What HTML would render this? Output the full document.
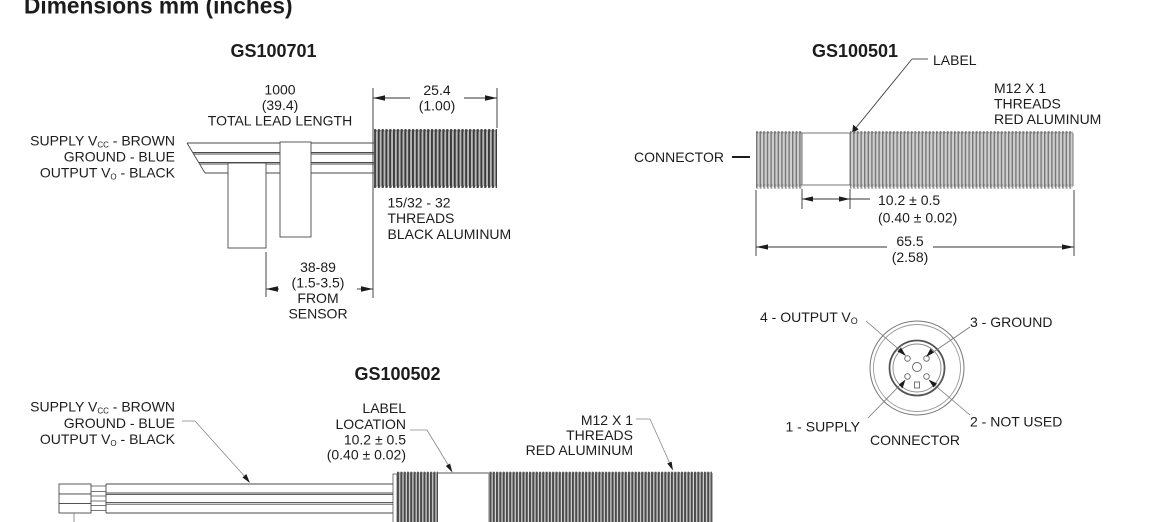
<!DOCTYPE html>
<html>
<head>
<meta charset="utf-8">
<style>
  html,body{margin:0;padding:0;background:#fff;}
  body{width:1150px;height:522px;overflow:hidden;}
  svg{display:block;}
  text{font-family:"Liberation Sans",Arial,sans-serif;fill:#1c1c1c;}
  .t{font-size:14px;}
  .b{font-weight:bold;}
</style>
</head>
<body>
<svg width="1150" height="522" viewBox="0 0 1150 522" xmlns="http://www.w3.org/2000/svg">
  <defs>
    <pattern id="tA" x="374" y="0" width="3.8" height="20" patternUnits="userSpaceOnUse">
      <rect width="3.8" height="20" fill="#b8b8b8"/>
      <rect x="0" width="1.9" height="20" fill="#3a3a3a"/>
    </pattern>
    <pattern id="bA" x="374" y="128.5" width="3.8" height="4" patternUnits="userSpaceOnUse">
      <circle cx="1" cy="2" r="1.5" fill="#444"/>
    </pattern>
    <pattern id="tB" x="756" y="0" width="3.6" height="20" patternUnits="userSpaceOnUse">
      <rect width="3.6" height="20" fill="#cfcfcf"/>
      <rect x="0" width="1.4" height="20" fill="#777"/>
    </pattern>
    <pattern id="bB" x="756" y="130.5" width="3.6" height="4" patternUnits="userSpaceOnUse">
      <circle cx="0.8" cy="2" r="1.4" fill="#777"/>
    </pattern>
    <pattern id="tC" x="397" y="0" width="3.3" height="20" patternUnits="userSpaceOnUse">
      <rect width="3.3" height="20" fill="#d8d8d8"/>
      <rect x="0" width="2.1" height="20" fill="#4a4a4a"/>
    </pattern>
    <pattern id="bC" x="397" y="471" width="3.3" height="4" patternUnits="userSpaceOnUse">
      <circle cx="1" cy="2" r="1.4" fill="#555"/>
    </pattern>
  </defs>

  <!-- Title -->
  <text x="24" y="13.5" class="b" style="font-size:22.7px">Dimensions mm (inches)</text>

  <!-- ================= GS100701 ================= -->
  <text x="273.5" y="57" class="b" style="font-size:18px" text-anchor="middle">GS100701</text>

  <text x="280" y="94.5" class="t" text-anchor="middle">1000</text>
  <text x="280" y="110" class="t" text-anchor="middle">(39.4)</text>
  <text x="280" y="125.6" class="t" text-anchor="middle">TOTAL LEAD LENGTH</text>

  <text x="437" y="95" class="t" text-anchor="middle">25.4</text>
  <text x="437" y="110.5" class="t" text-anchor="middle">(1.00)</text>

  <!-- 25.4 dimension -->
  <g stroke="#333" stroke-width="0.9" fill="none">
    <line x1="373" y1="88" x2="373" y2="298"/>
    <line x1="497" y1="88" x2="497" y2="128"/>
    <line x1="373" y1="98" x2="410" y2="98"/>
    <line x1="464" y1="98" x2="497" y2="98"/>
  </g>
  <polygon points="373,98 385,95.3 385,100.7" fill="#1c1c1c"/>
  <polygon points="497,98 485,95.3 485,100.7" fill="#1c1c1c"/>

  <!-- wires -->
  <g stroke="#4a4a4a" stroke-width="0.9" fill="none">
    <line x1="187" y1="143" x2="374" y2="143"/>
    <line x1="192.7" y1="152.5" x2="374" y2="152.5"/>
    <line x1="193.6" y1="154" x2="374" y2="154"/>
    <line x1="198.7" y1="162.5" x2="374" y2="162.5"/>
    <line x1="199.6" y1="164" x2="374" y2="164"/>
    <line x1="205" y1="173" x2="374" y2="173"/>
    <line x1="187" y1="143" x2="205" y2="173"/>
  </g>
  <rect x="280" y="142" width="31" height="95" fill="#fff" stroke="#4a4a4a" stroke-width="0.9"/>
  <rect x="228" y="163" width="38" height="85" fill="#fff" stroke="#4a4a4a" stroke-width="0.9"/>

  <!-- thread 15/32 -->
  <rect x="374" y="130" width="123" height="56" fill="url(#tA)"/>
  <rect x="374" y="128.5" width="123" height="4" fill="url(#bA)"/>
  <rect x="374" y="184" width="123" height="4" fill="url(#bA)"/>
  <line x1="374.5" y1="131" x2="374.5" y2="186" stroke="#555" stroke-width="1"/>

  <!-- left labels -->
  <text x="175" y="145.7" class="t" text-anchor="end">SUPPLY V<tspan style="font-size:8px" dy="2">CC</tspan><tspan dy="-2"> - BROWN</tspan></text>
  <text x="175" y="161.7" class="t" text-anchor="end">GROUND - BLUE</text>
  <text x="175" y="177.7" class="t" text-anchor="end">OUTPUT V<tspan style="font-size:8px" dy="2">O</tspan><tspan dy="-2"> - BLACK</tspan></text>

  <text x="387.5" y="207.5" class="t">15/32 - 32</text>
  <text x="387.5" y="223" class="t">THREADS</text>
  <text x="387.5" y="239" class="t">BLACK ALUMINUM</text>

  <!-- 38-89 dimension -->
  <line x1="266" y1="252" x2="266" y2="297" stroke="#333" stroke-width="0.9"/>
  <line x1="266" y1="289" x2="279" y2="289" stroke="#333" stroke-width="0.9"/>
  <line x1="357" y1="289" x2="373" y2="289" stroke="#333" stroke-width="0.9"/>
  <polygon points="266,289 278,286.3 278,291.7" fill="#1c1c1c"/>
  <polygon points="373,289 361,286.3 361,291.7" fill="#1c1c1c"/>
  <text x="318" y="272" class="t" text-anchor="middle">38-89</text>
  <text x="318" y="287.5" class="t" text-anchor="middle">(1.5-3.5)</text>
  <text x="318" y="303" class="t" text-anchor="middle">FROM</text>
  <text x="318" y="318.5" class="t" text-anchor="middle">SENSOR</text>

  <!-- ================= GS100501 ================= -->
  <text x="855" y="57" class="b" style="font-size:18px" text-anchor="middle">GS100501</text>

  <text x="933" y="65" class="t">LABEL</text>
  <g stroke="#444" stroke-width="0.9" fill="none">
    <line x1="912" y1="59" x2="928" y2="59"/>
    <line x1="912" y1="59" x2="855" y2="129"/>
  </g>
  <polygon points="852,133.5 853.2,124.8 858.6,129.2" fill="#1c1c1c"/>

  <text x="994" y="93" class="t">M12 X 1</text>
  <text x="994" y="108.5" class="t">THREADS</text>
  <text x="994" y="124" class="t">RED ALUMINUM</text>

  <text x="634" y="162" class="t">CONNECTOR</text>
  <line x1="732" y1="157" x2="750" y2="157" stroke="#1c1c1c" stroke-width="2"/>

  <!-- sensor body -->
  <rect x="756" y="132" width="46" height="55" fill="url(#tB)"/>
  <rect x="756" y="130.5" width="46" height="4" fill="url(#bB)"/>
  <rect x="756" y="184.5" width="46" height="4" fill="url(#bB)"/>
  <rect x="802" y="133" width="48" height="52" fill="#fff" stroke="#666" stroke-width="0.9"/>
  <rect x="850" y="132" width="223" height="55" fill="url(#tB)"/>
  <rect x="850" y="130.5" width="223" height="4" fill="url(#bB)"/>
  <rect x="850" y="184.5" width="223" height="4" fill="url(#bB)"/>
  <line x1="756.5" y1="133" x2="756.5" y2="186" stroke="#777" stroke-width="1"/>
  <line x1="1073" y1="133" x2="1073" y2="186" stroke="#777" stroke-width="1"/>

  <!-- 10.2 dimension -->
  <g stroke="#333" stroke-width="0.9" fill="none">
    <line x1="802" y1="189" x2="802" y2="209"/>
    <line x1="850" y1="189" x2="850" y2="209"/>
    <line x1="802" y1="199" x2="870" y2="199"/>
  </g>
  <polygon points="802,199 813,196.4 813,201.6" fill="#1c1c1c"/>
  <polygon points="850,199 839,196.4 839,201.6" fill="#1c1c1c"/>
  <text x="878" y="205" class="t">10.2 ± 0.5</text>
  <text x="878" y="222.5" class="t">(0.40 ± 0.02)</text>

  <!-- 65.5 dimension -->
  <g stroke="#333" stroke-width="0.9" fill="none">
    <line x1="756" y1="190" x2="756" y2="256"/>
    <line x1="1074" y1="190" x2="1074" y2="256"/>
    <line x1="756" y1="247" x2="887" y2="247"/>
    <line x1="933" y1="247" x2="1074" y2="247"/>
  </g>
  <polygon points="756,247 768,244.4 768,249.6" fill="#1c1c1c"/>
  <polygon points="1074,247 1062,244.4 1062,249.6" fill="#1c1c1c"/>
  <text x="910" y="246" class="t" text-anchor="middle">65.5</text>
  <text x="910" y="262" class="t" text-anchor="middle">(2.58)</text>

  <!-- connector face -->
  <g fill="none">
    <circle cx="917" cy="368" r="47" stroke="#777" stroke-width="1"/>
    <circle cx="917" cy="368" r="43.5" stroke="#999" stroke-width="0.9"/>
    <circle cx="917" cy="368" r="27.5" stroke="#555" stroke-width="1.8"/>
    <circle cx="917" cy="368" r="24" stroke="#888" stroke-width="0.9"/>
    <circle cx="907.5" cy="358.5" r="2.8" stroke="#666" stroke-width="0.9"/>
    <circle cx="926.5" cy="358.5" r="2.8" stroke="#666" stroke-width="0.9"/>
    <circle cx="907.5" cy="376.5" r="2.8" stroke="#666" stroke-width="0.9"/>
    <circle cx="926.5" cy="376.5" r="2.8" stroke="#666" stroke-width="0.9"/>
    <circle cx="917" cy="367" r="4.5" stroke="#666" stroke-width="0.9"/>
    <rect x="914.5" y="382" width="5" height="6" stroke="#666" stroke-width="0.9"/>
  </g>
  <g stroke="#777" stroke-width="0.8">
    <line x1="866" y1="321" x2="903" y2="353"/>
    <line x1="970" y1="327" x2="929" y2="355"/>
    <line x1="868" y1="418" x2="903" y2="382"/>
    <line x1="970" y1="415" x2="931" y2="382"/>
  </g>
  <polygon points="906,356 897.5,351.5 901,347.5" fill="#1c1c1c"/>
  <polygon points="926,357 930.5,348.5 934,352.5" fill="#1c1c1c"/>
  <polygon points="905.5,379.5 902.5,388.5 898.8,384.5" fill="#1c1c1c"/>
  <polygon points="928.5,379.5 937,383.5 933.5,387.5" fill="#1c1c1c"/>

  <text x="760" y="322" class="t">4 - OUTPUT  V<tspan style="font-size:9px" dy="2">O</tspan></text>
  <text x="970" y="327" class="t">3 - GROUND</text>
  <text x="785.5" y="431.5" class="t">1 - SUPPLY</text>
  <text x="970" y="426.5" class="t">2 - NOT USED</text>
  <text x="870" y="445" class="t">CONNECTOR</text>

  <!-- ================= GS100502 ================= -->
  <text x="397.5" y="380" class="b" style="font-size:18px" text-anchor="middle">GS100502</text>

  <text x="175" y="411.7" class="t" text-anchor="end">SUPPLY V<tspan style="font-size:8px" dy="2">CC</tspan><tspan dy="-2"> - BROWN</tspan></text>
  <text x="175" y="428" class="t" text-anchor="end">GROUND - BLUE</text>
  <text x="175" y="444" class="t" text-anchor="end">OUTPUT V<tspan style="font-size:8px" dy="2">O</tspan><tspan dy="-2"> - BLACK</tspan></text>

  <g stroke="#888" stroke-width="0.8" fill="none">
    <line x1="182" y1="421" x2="195" y2="421"/>
    <line x1="195" y1="421" x2="247" y2="479"/>
  </g>
  <polygon points="250,483 242.5,477.5 246.3,474" fill="#1c1c1c"/>

  <text x="406" y="413" class="t" text-anchor="end">LABEL</text>
  <text x="406" y="429" class="t" text-anchor="end">LOCATION</text>
  <text x="406" y="444.5" class="t" text-anchor="end">10.2 ± 0.5</text>
  <text x="406" y="459.5" class="t" text-anchor="end">(0.40 ± 0.02)</text>
  <g stroke="#888" stroke-width="0.8" fill="none">
    <line x1="410" y1="430" x2="427" y2="430"/>
    <line x1="427" y1="430" x2="450" y2="468"/>
  </g>
  <polygon points="452.5,472.5 445.8,466 450,463.5" fill="#1c1c1c"/>

  <text x="633" y="425" class="t" text-anchor="end">M12 X 1</text>
  <text x="633" y="440" class="t" text-anchor="end">THREADS</text>
  <text x="633" y="455" class="t" text-anchor="end">RED ALUMINUM</text>
  <g stroke="#888" stroke-width="0.8" fill="none">
    <line x1="636" y1="419" x2="650" y2="419"/>
    <line x1="650" y1="419" x2="671" y2="466"/>
  </g>
  <polygon points="673,470.5 667.2,463.5 671.6,461.6" fill="#1c1c1c"/>

  <!-- bottom wires -->
  <g stroke="#4a4a4a" stroke-width="0.9" fill="#fff">
    <rect x="59" y="484" width="32" height="10"/>
    <rect x="59" y="494" width="32" height="9.5"/>
    <rect x="59" y="503.5" width="32" height="9.5"/>
  </g>
  <g stroke="#555" stroke-width="0.8" fill="none">
    <line x1="91" y1="486" x2="106" y2="486"/>
    <line x1="91" y1="491.5" x2="106" y2="491.5"/>
    <line x1="91" y1="496" x2="106" y2="496"/>
    <line x1="91" y1="501" x2="106" y2="501"/>
    <line x1="91" y1="505.5" x2="106" y2="505.5"/>
    <line x1="91" y1="510.5" x2="106" y2="510.5"/>
  </g>
  <g stroke="#4a4a4a" stroke-width="0.9" fill="none">
    <line x1="106" y1="484" x2="106" y2="513"/>
    <line x1="106" y1="484" x2="394" y2="484"/>
    <line x1="106" y1="493" x2="394" y2="493"/>
    <line x1="106" y1="494.6" x2="394" y2="494.6"/>
    <line x1="106" y1="502.6" x2="394" y2="502.6"/>
    <line x1="106" y1="504.2" x2="394" y2="504.2"/>
    <line x1="106" y1="513" x2="394" y2="513"/>
  </g>
  <line x1="74" y1="513" x2="74" y2="522" stroke="#777" stroke-width="0.8"/>

  <!-- bottom sensor -->
  <rect x="393" y="474" width="4" height="50" fill="#fff" stroke="#555" stroke-width="0.8"/>
  <rect x="397" y="473" width="41" height="52" fill="url(#tC)"/>
  <rect x="397" y="471" width="41" height="4" fill="url(#bC)"/>
  <line x1="438" y1="473" x2="488" y2="473" stroke="#555" stroke-width="0.9"/>
  <rect x="488" y="473" width="224" height="52" fill="url(#tC)"/>
  <rect x="488" y="471" width="224" height="4" fill="url(#bC)"/>
  <line x1="712" y1="473" x2="712" y2="522" stroke="#666" stroke-width="1"/>
</svg>
</body>
</html>
